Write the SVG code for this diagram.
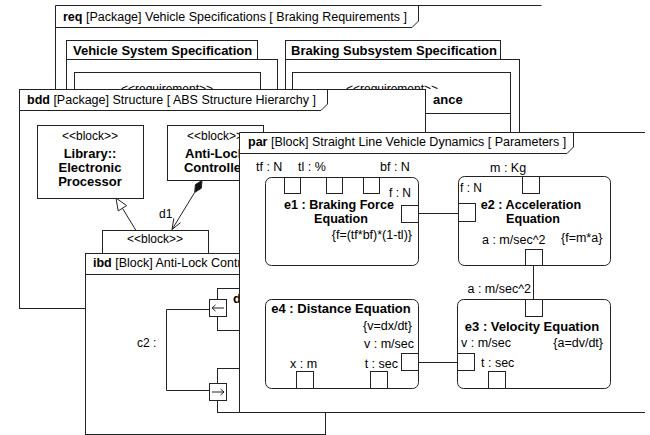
<svg xmlns="http://www.w3.org/2000/svg" width="650" height="435" viewBox="0 0 650 435">
  <style>
    .ln { fill: none; stroke: #222; stroke-width: 1; }
    .bx { fill: #fff; stroke: #222; stroke-width: 1; }
    .wh { fill: #fff; stroke: none; }
    .pt { fill: #fff; stroke: #222; stroke-width: 1; }
    .fill { fill: #111; stroke: #222; stroke-width: 1; }
    text { font-family: "Liberation Sans", Arial, sans-serif; font-size: 12.5px; fill: #000; }
    .b { font-weight: bold; font-size: 13px; }
    .bt { font-weight: bold; font-size: 12.6px; }
    .s { font-size: 12px; }
    .m { text-anchor: middle; }
    .e { text-anchor: end; }
  </style>
  <defs>
    <!-- upper strip of the requirement compartments, above the bdd frame -->
    <clipPath id="reqTop">
      <rect x="0" y="0" width="650" height="89"/>
    </clipPath>
  </defs>

  <rect width="650" height="435" fill="#fff"/>

  <!-- req frame (back) -->
  <g id="req-frame">
    <path class="ln" d="M55.5,140 V5.5 H541.5"/>
    <path class="ln" d="M55.5,27.5 H412 L418.5,21 V5.5"/>
    <text x="63" y="21"><tspan font-weight="bold">req</tspan> [Package] Vehicle Specifications [ Braking Requirements ]</text>
  </g>
  <g id="pkg-vehicle-system">
    <rect class="bx" x="66.5" y="40.5" width="191" height="19"/>
    <rect class="bx" x="66.5" y="59.5" width="211" height="80"/>
    <text class="b" x="73" y="55">Vehicle System Specification</text>
    <rect class="bx" x="74.5" y="72.5" width="186" height="60"/>
    <text class="s m" x="167" y="93" clip-path="url(#reqTop)">&lt;&lt;requirement&gt;&gt;</text>
  </g>
  <g id="pkg-braking-subsystem">
    <rect class="bx" x="285.5" y="40.5" width="215" height="19"/>
    <rect class="bx" x="285.5" y="59.5" width="234" height="80"/>
    <text class="b" x="291" y="55">Braking Subsystem Specification</text>
    <rect class="bx" x="292.5" y="72.5" width="218" height="60"/>
    <line class="ln" x1="292.5" y1="113.5" x2="510.5" y2="113.5"/>
    <text class="s m" x="392" y="93" clip-path="url(#reqTop)">&lt;&lt;requirement&gt;&gt;</text>
    <text class="b" x="433" y="104">ance</text>
  </g>

  <!-- bdd frame -->
  <g id="bdd-frame">
    <rect class="bx" x="19.5" y="89.5" width="406" height="219"/>
    <path class="ln" d="M19.5,110.5 H321 L327.5,104 V89.5"/>
    <text x="27" y="104"><tspan font-weight="bold">bdd</tspan> [Package] Structure [ ABS Structure Hierarchy ]</text>
  </g>
  <g id="block-electronic-processor">
    <rect class="bx" x="37.5" y="125.5" width="106" height="73"/>
    <text class="s m" x="90" y="140">&lt;&lt;block&gt;&gt;</text>
    <text class="b m" x="90" y="158">Library::</text>
    <text class="b m" x="90" y="172">Electronic</text>
    <text class="b m" x="90" y="186">Processor</text>
  </g>
  <g id="block-anti-lock-controller">
    <rect class="bx" x="167.5" y="125.5" width="96" height="55"/>
    <text class="s m" x="215" y="140">&lt;&lt;block&gt;&gt;</text>
    <text class="b m" x="215" y="158">Anti-Lock</text>
    <text class="b m" x="215" y="172">Controller</text>
  </g>
  <g id="block-lower">
    <rect class="bx" x="102.5" y="230.5" width="106" height="60"/>
    <text class="s m" x="155" y="243">&lt;&lt;block&gt;&gt;</text>
  </g>
  <g id="bdd-connectors">
    <!-- generalization -->
    <line class="ln" x1="136" y1="230.5" x2="122.4" y2="208.2"/>
    <polygon class="pt" points="116,198 126.6,205.6 118.2,210.9"/>
    <!-- composition d1 -->
    <line class="ln" x1="172" y1="229.5" x2="194.7" y2="192.4"/>
    <polygon class="fill" points="202,180.5 201.3,188.3 194.7,192.4 195.4,184.6"/>
    <path class="ln" d="M180.6,222.6 L172,229.5 L173.8,218.4"/>
    <text class="s" x="159" y="218">d1</text>
  </g>

  <!-- ibd frame -->
  <g id="ibd-frame">
    <rect class="bx" x="85.5" y="253.5" width="240" height="181"/>
    <line class="ln" x1="85.5" y1="274.5" x2="240" y2="274.5"/>
    <text x="93" y="267"><tspan font-weight="bold">ibd</tspan> [Block] Anti-Lock Controller</text>
  </g>
  <g id="part-top">
    <rect class="bx" x="217.5" y="288.5" width="60" height="42"/>
    <text class="b" x="233" y="303">d1</text>
    <rect class="pt" x="209.5" y="299.5" width="17" height="17"/>
    <path class="ln" d="M224,308 H212 M215.5,305 L212,308 L215.5,311"/>
  </g>
  <g id="part-bottom">
    <rect class="bx" x="217.5" y="368.5" width="60" height="44"/>
    <rect class="pt" x="209.5" y="383.5" width="17" height="17"/>
    <path class="ln" d="M212,392 H224 M220.5,389 L224,392 L220.5,395"/>
  </g>
  <g id="ibd-connectors">
    <path class="ln" d="M209.5,309.5 H166.5 V390.5 H209.5"/>
    <text class="s" x="137" y="347">c2 :</text>
  </g>

  <!-- par frame (front) -->
  <g id="par-frame">
    <rect class="wh" x="239.5" y="132.5" width="406" height="280"/>
    <path class="ln" d="M645,132.5 H239.5 V412.5 H645"/>
    <path class="ln" d="M239.5,153.5 H567 L573.5,147 V132.5"/>
    <text x="248" y="146"><tspan font-weight="bold">par</tspan> [Block] Straight Line Vehicle Dynamics [ Parameters ]</text>
  </g>

  <g id="e1">
    <rect class="bx" x="265.5" y="177.5" width="153" height="88" rx="6"/>
    <rect class="pt" x="284.5" y="177.5" width="16" height="16"/>
    <rect class="pt" x="326.5" y="177.5" width="16" height="16"/>
    <rect class="pt" x="363.5" y="177.5" width="16" height="16"/>
    <rect class="pt" x="401.5" y="205.5" width="17" height="17"/>
    <text x="256" y="171">tf : N</text>
    <text x="298" y="171">tl : %</text>
    <text x="380" y="171">bf : N</text>
    <text class="s" x="389" y="197">f : N</text>
    <text class="bt m" x="339" y="209">e1 : Braking Force</text>
    <text class="bt m" x="341" y="223">Equation</text>
    <text class="e" x="412" y="239">{f=(tf*bf)*(1-tl)}</text>
  </g>

  <g id="e2">
    <rect class="bx" x="458.5" y="176.5" width="152" height="89" rx="6"/>
    <rect class="pt" x="522.5" y="176.5" width="17" height="17"/>
    <rect class="pt" x="458.5" y="203.5" width="17" height="18"/>
    <rect class="pt" x="525.5" y="249.5" width="17" height="16"/>
    <text x="490" y="172">m : Kg</text>
    <text class="s" x="460" y="192">f : N</text>
    <text class="bt m" x="531" y="209">e2 : Acceleration</text>
    <text class="bt m" x="533" y="223">Equation</text>
    <text x="482" y="244">a : m/sec^2</text>
    <text x="561" y="242">{f=m*a}</text>
  </g>

  <g id="e3">
    <rect class="bx" x="457.5" y="299.5" width="153" height="89" rx="6"/>
    <rect class="pt" x="525.5" y="299.5" width="17" height="17"/>
    <rect class="pt" x="457.5" y="353.5" width="17" height="17"/>
    <rect class="pt" x="488.5" y="371.5" width="17" height="17"/>
    <text class="e" x="531" y="293">a : m/sec^2</text>
    <text class="b m" x="532" y="331">e3 : Velocity Equation</text>
    <text x="461" y="347">v : m/sec</text>
    <text class="e" x="603" y="347">{a=dv/dt}</text>
    <text x="481" y="367">t : sec</text>
  </g>

  <g id="e4">
    <rect class="bx" x="265.5" y="299.5" width="153" height="89" rx="6"/>
    <rect class="pt" x="296.5" y="371.5" width="17" height="17"/>
    <rect class="pt" x="370.5" y="371.5" width="17" height="17"/>
    <rect class="pt" x="401.5" y="353.5" width="17" height="17"/>
    <text class="b m" x="341" y="313">e4 : Distance Equation</text>
    <text class="e" x="412" y="330">{v=dx/dt}</text>
    <text class="e" x="414" y="348">v : m/sec</text>
    <text x="290" y="368">x : m</text>
    <text class="e" x="398" y="368">t : sec</text>
  </g>

  <g id="par-connectors">
    <line class="ln" x1="418.5" y1="213.5" x2="458.5" y2="213.5"/>
    <line class="ln" x1="533.5" y1="265.5" x2="533.5" y2="299.5"/>
    <line class="ln" x1="418.5" y1="362.5" x2="457.5" y2="362.5"/>
  </g>
</svg>
